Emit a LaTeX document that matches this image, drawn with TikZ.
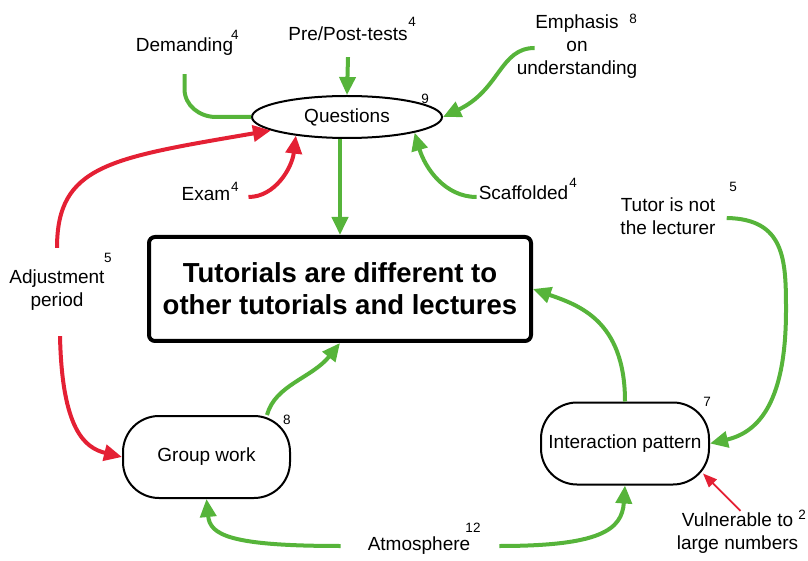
\documentclass[tikz,border=0pt]{standalone}
\usepackage{fontspec}
\setmainfont{Liberation Sans}
\usetikzlibrary{arrows.meta,shapes.geometric}
\definecolor{vert}{RGB}{86,180,58}
\definecolor{rouge}{RGB}{228,32,52}
\begin{document}
\begin{tikzpicture}[x=1pt, y=1pt,
  lab/.style={font=\fontsize{19}{23}\selectfont, align=center, inner sep=2pt},
  num/.style={font=\fontsize{13.5}{14}\selectfont, inner sep=0pt},
  bulle/.style={draw, line width=2pt, ellipse, minimum width=190pt, minimum height=42pt, inner sep=0pt,
    font=\fontsize{19}{23}\selectfont},
  pilule/.style={draw, line width=2pt, rounded corners=36pt, minimum height=82pt,
    font=\fontsize{19}{23}\selectfont},
  boite/.style={draw, line width=4pt, rounded corners=6pt, minimum width=382pt, minimum height=104pt,
    align=center, font=\fontsize{27.5}{32}\selectfont\bfseries},
  gtrait/.style={draw=vert, line width=4pt},
  gfleche/.style={gtrait, -{Triangle[length=18pt,width=16pt]}},
  rfleche/.style={draw=rouge, line width=4pt, -{Triangle[length=18pt,width=16pt]}},
  rfine/.style={draw=rouge, line width=1.8pt, -{Triangle[length=14pt,width=11pt]}}]
  \useasboundingbox (0,0) rectangle (808,560);

  % Noeuds principaux
  \node[bulle] (quest) at (347,443) {Questions};
  \node[boite] (tut) at (340,271) {Tutorials are different to\\other tutorials and lectures};
  \node[pilule, minimum width=167pt] (group) at (206.5,103) {Group work};
  \node[pilule, minimum width=168pt] (inter) at (625,116.5) {Interaction pattern};

  % Facteurs
  \node[lab] (pre) at (348,526) {Pre/Post-tests};
  \node[lab] (dem) at (184.5,513) {Demanding};
  \node[lab] (emph) at (577,513) {Emphasis\\on\\understanding};
  \node[lab] (exam) at (206,366) {Exam};
  \node[lab] (scaf) at (523.5,367) {Scaffolded};
  \node[lab] (adj) at (57,269.5) {Adjustment\\period};
  \node[lab] (tutor) at (668,344) {Tutor is not\\the lecturer};
  \node[lab] (vuln) at (737.5,26.5) {Vulnerable to\\large numbers};
  \node[lab] (atm) at (419,14) {Atmosphere};

  % Nombres
  \node[num] (n-pre) at (412,538) {4};
  \node[num] (n-dem) at (235,525) {4};
  \node[num] (n-emph) at (633,541) {8};
  \node[num] (n-quest) at (425,461) {9};
  \node[num] (n-exam) at (235,373) {4};
  \node[num] (n-scaf) at (573,377) {4};
  \node[num] (n-adj) at (108,302) {5};
  \node[num] (n-group) at (287,140) {8};
  \node[num] (n-inter) at (707,158) {7};
  \node[num] (n-tutor) at (733,373) {5};
  \node[num] (n-vuln) at (802,45) {2};
  \node[num] (n-atm) at (473,32) {12};

  % Vers Questions
  \draw[gfleche] ([yshift=-14pt]pre.south) -- (quest.north);
  \draw[gtrait] ([yshift=-16pt]dem.south) -- ++(0,-15) to[out=-90,in=180] ([xshift=-35pt]quest.west) -- (quest.west);
  \draw[gfleche] ([xshift=20pt,yshift=-1pt]emph.west) .. controls (500,512) and (500,470) .. (quest.east);
  \draw[rfleche] ([xshift=16pt,yshift=-3pt]exam.east) .. controls (275,363) and (292,392) .. (quest.200);
  \draw[gfleche] ([yshift=-4pt]scaf.west) .. controls (445,363) and (425,392) .. (quest.-13);
  \draw[rfleche] ([yshift=20pt]adj.north) .. controls (57,395) and (110,402) .. (quest.190);

  % Vers le cadre central
  \draw[gfleche] (quest.south -| tut.north) -- (tut.north);
  \draw[gfleche] ([xshift=-24pt]group.north east) .. controls (275,175) and (312,182) .. (tut.south);
  \draw[gfleche] (inter.north) .. controls (625,240) and (578,255) .. (tut.east);

  % Vers Group work et Interaction pattern
  \draw[rfleche] ([xshift=3pt,yshift=-23pt]adj.south) .. controls (62,130) and (85,112) .. (group.west);
  \draw[gfleche] ([xshift=9pt,yshift=-2pt]tutor.east) .. controls (785,341) and (786,300) .. (786,250)
    .. controls (786,160) and (760,128) .. (inter.east);
  \draw[rfine] ([xshift=3pt]vuln.north) -- ([xshift=-7pt,yshift=12pt]inter.south east);
  \draw[gfleche] ([xshift=-25pt]atm.west) .. controls (230,14) and (210,25) .. (group.south);
  \draw[gfleche] ([xshift=27pt]atm.east) .. controls (600,14) and (622,30) .. (inter.south);
\end{tikzpicture}
\end{document}
